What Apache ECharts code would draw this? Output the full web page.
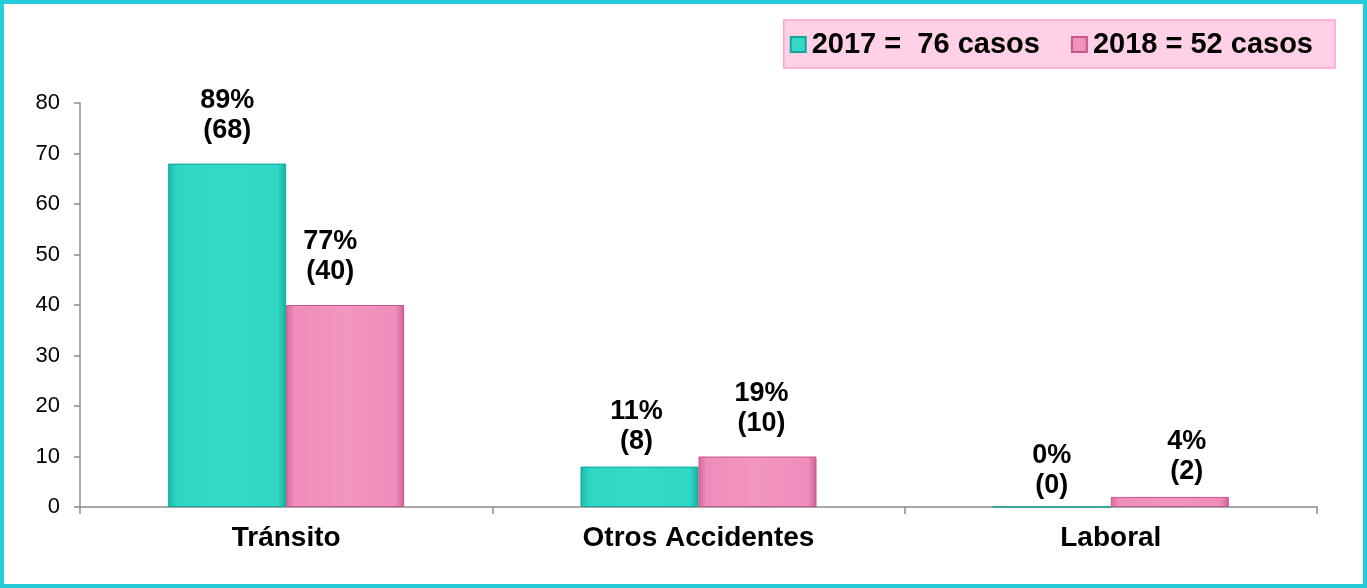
<!DOCTYPE html>
<html>
<head>
<meta charset="utf-8">
<script src="https://cdn.jsdelivr.net/npm/echarts@6/dist/echarts.min.js"></script>
<style>
  html, body { margin: 0; padding: 0; background: #fff; }
  #chart { width: 1367px; height: 588px; }
</style>
</head>
<body>
<div id="chart"></div>
<script>
// categorias y valores
var categorias = ["Tránsito", "Otros Accidentes", "Laboral"];
var casos2017 = [68, 8, 0];
var casos2018 = [40, 10, 2];
var pct2017 = [89, 11, 0];
var pct2018 = [77, 19, 4];
var leyenda = ["2017 =  76 casos", "2018 = 52 casos"];
var yTicks = [0, 10, 20, 30, 40, 50, 60, 70, 80];

// ajustes de las etiquetas (como en el original)
var off2017 = [[0, 0], [-3, 8], [0, 12]];
var off2018 = [[-15, 0], [4, 0], [17, 8]];

var FUENTE = "'Liberation Sans', Arial, sans-serif";

var chart = echarts.init(document.getElementById("chart"));

var teal = new echarts.graphic.LinearGradient(0, 0, 1, 0, [
  { offset: 0, color: "#17b9a9" },
  { offset: 0.07, color: "#2fd6c4" },
  { offset: 0.5, color: "#35dac7" },
  { offset: 0.93, color: "#2fd6c4" },
  { offset: 1, color: "#17b0a2" }
]);
var pink = new echarts.graphic.LinearGradient(0, 0, 1, 0, [
  { offset: 0, color: "#d9689c" },
  { offset: 0.07, color: "#ef8dbb" },
  { offset: 0.5, color: "#f295c0" },
  { offset: 0.93, color: "#ef8dbb" },
  { offset: 1, color: "#cf5f93" }
]);

function datos(vals, pcts, offs) {
  return vals.map(function (v, i) {
    return {
      value: v,
      label: { formatter: pcts[i] + "%\n(" + v + ")", offset: offs[i] }
    };
  });
}

var etiqueta = {
  show: true,
  position: "top",
  distance: 18,
  color: "#000",
  fontFamily: FUENTE,
  fontWeight: "bold",
  fontSize: 27,
  lineHeight: 30,
  align: "center"
};

chart.setOption({
  animation: false,
  graphic: [{
    type: "rect",
    shape: { x: 2, y: 2, width: 1363, height: 584 },
    style: { fill: null, stroke: "#22ccd8", lineWidth: 4 },
    silent: true
  }],
  legend: {
    data: leyenda,
    right: 32,
    top: 20,
    padding: [10, 22, 9, 6],
    itemGap: 31,
    itemWidth: 15,
    itemHeight: 15,
    icon: "rect",
    backgroundColor: "#ffd0e6",
    borderColor: "#f7a3ca",
    borderWidth: 1.5,
    textStyle: {
      color: "#000",
      fontFamily: FUENTE,
      fontWeight: "bold",
      fontSize: 29,
      padding: [0, 0, 0, 1]
    }
  },
  grid: { left: 80, right: 50, top: 103, bottom: 81 },
  xAxis: {
    type: "category",
    data: categorias,
    axisLine: { lineStyle: { color: "#8c8c8c", width: 1.5 } },
    axisTick: { show: true, length: 7, lineStyle: { color: "#8c8c8c", width: 1.5 } },
    axisLabel: {
      color: "#000",
      fontFamily: FUENTE,
      fontWeight: "bold",
      fontSize: 28,
      margin: 17
    }
  },
  yAxis: {
    type: "value",
    min: yTicks[0],
    max: yTicks[yTicks.length - 1],
    interval: 10,
    splitLine: { show: false },
    axisLine: { show: true, lineStyle: { color: "#8c8c8c", width: 1.5 } },
    axisTick: { show: true, length: 6, lineStyle: { color: "#8c8c8c", width: 1.5 } },
    axisLabel: {
      color: "#000",
      fontFamily: FUENTE,
      fontSize: 22,
      margin: 20
    }
  },
  series: [
    {
      name: leyenda[0],
      type: "bar",
      data: datos(casos2017, pct2017, off2017),
      barWidth: 118,
      barGap: "0%",
      itemStyle: { color: teal, borderColor: "#14a597", borderWidth: 1 },
      label: etiqueta
    },
    {
      name: leyenda[1],
      type: "bar",
      data: datos(casos2018, pct2018, off2018),
      barWidth: 118,
      barGap: "0%",
      itemStyle: { color: pink, borderColor: "#c45a8b", borderWidth: 1 },
      label: etiqueta
    }
  ]
});
</script>
</body>
</html>
